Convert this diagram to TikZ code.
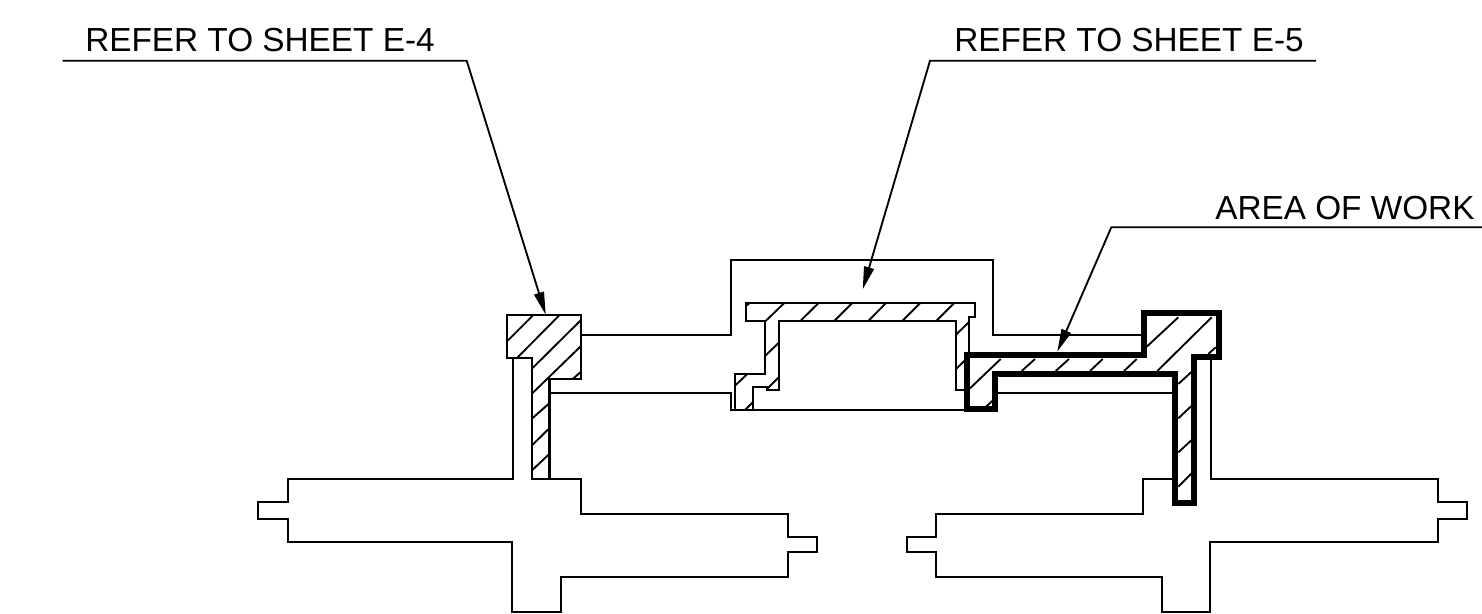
\documentclass[tikz,border=0pt]{standalone}
\usepackage{fontspec}
\setmainfont{Liberation Sans}
\usetikzlibrary{arrows.meta}
\tikzset{
  thinline/.style={line width=1.5pt,line join=miter},
  sect/.style={line width=1.6pt,line join=miter},
  heavy/.style={line width=4.5pt,line join=miter},
  hatch/.style={line width=1.4pt},
  leader/.style={line width=1.4pt,-{Triangle[length=17pt,width=7.5pt]}},
  lbl/.style={inner sep=0pt,anchor=base west,font=\fontsize{25pt}{28pt}\selectfont}
}
\begin{document}
\begin{tikzpicture}[x=0.75pt,y=-0.75pt]
\useasboundingbox (0,0) rectangle (1482,614);
% outlines
\draw[thinline] (581,335.3)--(731,335.3)--(731,260)--(993.3,260)--(993.3,335.3)--(1142,335.3);
\draw[thinline] (549.5,393)--(731,393)--(731,410)--(966,410);
\draw[thinline] (998,392.7)--(1172,392.7);
% left flange
\draw[thinline] (513,358)--(513,479.3)--(287.7,479.3)--(287.7,502.3)--(258.3,502.3)--(258.3,519.3)--(287.7,519.3)--(287.7,541.7)--(512,541.7)--(512,612)--(560.7,612)--(560.7,576.7)--(788,576.7)--(788,552)--(817,552)--(817,537)--(788,537)--(788,514)--(581,514)--(581,479.3)--(549.5,479.3);
% right flange
\draw[thinline] (1210.7,360)--(1210.7,479.3)--(1438,479.3)--(1438,502.3)--(1467,502.3)--(1467,519.3)--(1438,519.3)--(1438,541.7)--(1210,541.7)--(1210,612)--(1162,612)--(1162,576.7)--(936,576.7)--(936,552)--(907,552)--(907,537)--(936,537)--(936,514)--(1143,514)--(1143,479.3)--(1172,479.3);
% sections
\draw[sect] (507,315)--(581,315)--(581,379)--(549.5,379)--(549.5,479.3)--(532,479.3)--(532,358)--(507,358)--cycle;
\draw[sect] (969.3,358)--(969.3,316.7)--(975,316.7)--(975,302.7)--(746,302.7)--(746,321.3)--(765.3,321.3)--(765.3,374)--(734.7,374)--(734.7,410)--(753.3,410)--(753.3,387.3)--(766.7,387.3)--(766.7,390)--(779.3,390)--(779.3,321.3)--(955.7,321.3)--(955.7,390)--(966,390);
% hatching
\foreach \a/\b/\c/\d in {
506.7/341.7/533.3/315, 517.7/357.3/559.3/315.3, 532.3/368.3/581/320, 532.3/393.3/581/346, 572.7/379/581/371.7,
532.3/418.3/549.3/403.3, 532.3/445/549.3/428.3, 532.3/470/549.3/454,
746/306/750/302.7, 765.3/321.3/784/303.3, 800/321.3/818.3/303.3, 834/321.3/852/303.3, 868/321.3/885.7/303.3, 902/321.3/920/303.3, 936/321.3/954/303.3,
955.7/335/969.3/321.7, 955.7/369.3/966/359.3, 765.3/355.7/779.3/342.3, 766.7/389.3/779.3/376.7, 734.7/386/747.3/374, 745/410/753.3/401.7,
970/388.3/1000.7/359, 986/406.7/993.3/400, 1021.7/371/1035/359, 1055.7/371/1069/359, 1090/371/1102.7/359, 1124/371/1136.7/359,
1146.7/346.7/1178.3/317.3, 1157.3/371/1211.7/317.3, 1208.3/354/1215.7/347.3,
1178.3/384/1191.7/371.7, 1178.3/418.3/1191.7/405.7, 1178.3/452.3/1191.7/440, 1178.3/486.7/1191.7/473.3}
  {\draw[hatch] (\a,\b)--(\c,\d);}
% area of work
\draw[heavy] (966.7,355)--(1144,355)--(1144,313.3)--(1219.3,313.3)--(1219.3,357.3)--(1194,357.3)--(1194,503.3)--(1175,503.3)--(1175,374)--(995,374)--(995,409.3)--(966.7,409.3)--cycle;
% labels
\node[lbl] (t4) at (85,51.7) {REFER TO SHEET E-4};
\node[lbl] (t5) at (954,51.7) {REFER TO SHEET E-5};
\node[lbl] (ta) at (1215,219) {AREA OF WORK};
% leaders
\coordinate (a1) at (62.7,60.7); \coordinate (a2) at (466.7,60.7); \coordinate (a3) at (545.7,314.7);
\coordinate (b1) at (1316,60.7); \coordinate (b2) at (930,60.7); \coordinate (b3) at (862.7,289.3);
\coordinate (c1) at (1482,227.3); \coordinate (c2) at (1111.3,227.3); \coordinate (c3) at (1057.3,351.7);
\draw[leader] (a1)--(a2)--(a3);
\draw[leader] (b1)--(b2)--(b3);
\draw[leader] (c1)--(c2)--(c3);
\end{tikzpicture}
\end{document}
